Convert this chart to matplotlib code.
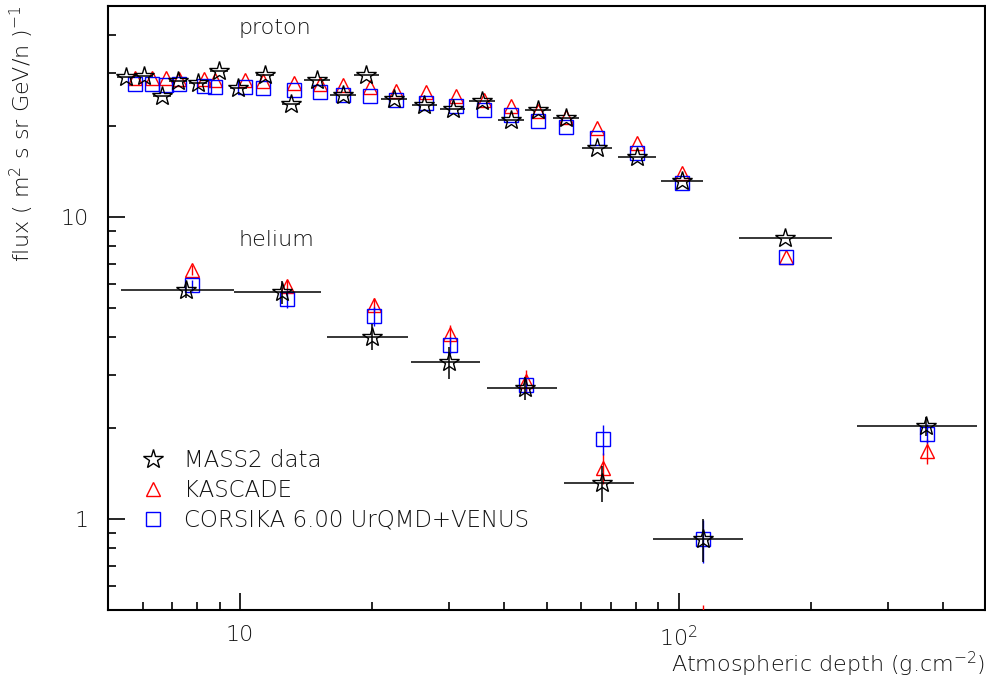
import matplotlib
matplotlib.use("Agg")
import matplotlib.pyplot as plt
import matplotlib.ticker as ticker
import numpy as np

plt.rcParams['font.family'] = ['DejaVu Sans']
plt.rcParams['font.weight'] = 'light'
plt.rcParams['mathtext.fontset'] = 'custom'
plt.rcParams['mathtext.rm'] = 'DejaVu Sans:light'

TXT = '#111111'

## proton: MASS2 data (stars) with depth bins
p_depth = [5.49, 6.04, 6.63, 7.23, 8.02, 8.94, 9.92, 11.40, 13.07, 14.96, 17.19, 19.43,
           22.44, 26.34, 30.53, 35.61, 41.57, 47.85, 55.38, 65.10, 80.54, 101.8, 175.3]
p_lo = [5.24, 5.76, 6.33, 6.90, 7.65, 8.53, 9.47, 10.88, 12.47, 13.98, 16.07, 18.16,
        20.97, 24.62, 28.53, 33.28, 38.85, 44.72, 51.76, 60.22, 72.95, 91.2, 137.2]
p_hi = [5.75, 6.33, 6.95, 7.58, 8.41, 9.37, 10.40, 11.95, 13.70, 16.01, 18.39, 20.79,
        24.01, 28.18, 32.67, 38.10, 44.48, 51.20, 59.26, 70.37, 88.92, 113.6, 224.0]
p_mass2 = [29.02, 29.25, 25.10, 28.30, 27.81, 30.55, 26.77, 29.47, 23.68, 28.52, 25.43, 29.63,
           24.60, 23.56, 22.80, 24.16, 21.01, 22.68, 21.28, 16.92, 15.86, 13.20, 8.52]

## proton: simulations
p_sim_depth = [5.77, 6.29, 6.78, 7.26, 8.26, 8.75, 10.27, 11.26, 13.27, 15.22, 17.19, 19.77,
               22.73, 26.58, 31.08, 36.04, 41.57, 47.85, 55.38, 65.10, 80.54, 101.8, 176.2]
p_kascade = [28.95, 28.95, 28.95, 28.73, 28.73, 28.52, 28.52, 28.30, 27.87, 27.66, 27.45, 27.03,
             26.22, 26.02, 25.23, 24.47, 23.38, 22.50, 21.49, 19.76, 17.61, 14.00, 7.36]
p_corsika = [27.66, 27.66, 27.45, 27.66, 27.24, 27.03, 27.03, 26.83, 26.42, 25.96, 25.43, 25.10,
             24.47, 23.86, 23.25, 22.55, 21.82, 20.73, 19.81, 18.34, 16.28, 12.94, 7.36]

## helium: MASS2 data
he_depth = [7.54, 12.49, 19.97, 29.90, 44.64, 67.07, 113.8, 366.6]
he_lo = [5.35, 9.666, 15.79, 24.49, 36.60, 54.92, 87.54, 255.3]
he_hi = [9.666, 15.28, 24.11, 35.28, 52.75, 79.14, 140.1, 480.2]
he_mass2 = [5.75, 5.65, 4.02, 3.32, 2.72, 1.32, 0.860, 2.03]
he_mass2_err = [0.36, 0.50, 0.39, 0.40, 0.24, 0.18, 0.14, 0.14]

## helium: simulations
he_sim_depth = [7.78, 12.77, 20.25, 30.12, 44.94, 67.31, 113.8, 368.0]
he_kascade = [6.70, 5.90, 5.10, 4.09, 2.87, 1.48, 0.44, 1.68]
he_kascade_err = [0.26, 0.28, 0.28, 0.29, 0.25, 0.17, 0.08, 0.16]
he_corsika = [5.94, 5.37, 4.70, 3.76, 2.79, 1.84, 0.856, 1.92]
he_corsika_err = [0.23, 0.38, 0.33, 0.24, 0.13, 0.21, 0.14, 0.14]

fig = plt.figure(figsize=(9.87, 6.77), dpi=100)
ax = fig.add_axes([0.1094, 0.099, 0.8886, 0.8921])

tri_kw = dict(fmt='^', ms=10, mfc='none', mec='red', mew=1.0, ecolor='red', elinewidth=1.0, capsize=0)
sq_kw = dict(fmt='s', ms=9.5, mfc='none', mec='blue', mew=1.0, ecolor='blue', elinewidth=1.0, capsize=0)
star_kw = dict(fmt='*', ms=14.5, mfc='none', mec='black', mew=1.0, ecolor='black', elinewidth=1.1, capsize=0)

# protons
ax.errorbar(p_sim_depth, p_kascade, **tri_kw, zorder=3)
ax.errorbar(p_sim_depth, p_corsika, **sq_kw, zorder=4)
p_x = np.array(p_depth)
ax.errorbar(p_x, p_mass2, xerr=[p_x - np.array(p_lo), np.array(p_hi) - p_x], **star_kw, zorder=5)

# helium
ax.errorbar(he_sim_depth, he_kascade, yerr=he_kascade_err, **tri_kw, zorder=3)
ax.errorbar(he_sim_depth, he_corsika, yerr=he_corsika_err, **sq_kw, zorder=4)
he_x = np.array(he_depth)
ax.errorbar(he_x, he_mass2, yerr=he_mass2_err,
            xerr=[he_x - np.array(he_lo), np.array(he_hi) - he_x], **star_kw, zorder=5)

ax.set_xscale('log')
ax.set_yscale('log')
ax.set_xlim(5, 500)
ax.set_ylim(0.5, 50)

ax.xaxis.set_major_locator(ticker.FixedLocator([10, 100]))
ax.xaxis.set_major_formatter(ticker.FixedFormatter(['10', r'$10^{2}$']))
ax.xaxis.set_minor_locator(ticker.LogLocator(base=10, subs=np.arange(2, 10)))
ax.xaxis.set_minor_formatter(ticker.NullFormatter())
ax.yaxis.set_major_locator(ticker.FixedLocator([1, 10]))
ax.yaxis.set_major_formatter(ticker.FixedFormatter(['1', '10']))
ax.yaxis.set_minor_locator(ticker.LogLocator(base=10, subs=np.arange(2, 10)))
ax.yaxis.set_minor_formatter(ticker.NullFormatter())

ax.tick_params(which='both', direction='in', top=False, right=False, labelsize=16,
               width=1.2, labelcolor=TXT)
ax.tick_params(which='major', length=12)
ax.tick_params(axis='x', which='major', pad=11)
ax.tick_params(axis='y', which='major', pad=14)
ax.tick_params(which='minor', length=6)
for s in ax.spines.values():
    s.set_linewidth(1.5)

ax.text(0.149, 0.9636, 'proton', transform=ax.transAxes, fontsize=16, va='center', color=TXT)
ax.text(0.149, 0.6126, 'helium', transform=ax.transAxes, fontsize=16, va='center', color=TXT)

fig.text(0.998, 0.019, r'Atmospheric depth (g.cm$^{-2}$)', ha='right', va='center', fontsize=16,
         color=TXT)
fig.text(0.022, 0.992, r'flux ( m$^{2}$ s sr GeV/n )$^{-1}$', rotation=90, ha='center', va='top',
         fontsize=16, color=TXT)

# legend
h_star = ax.errorbar([], [], **star_kw)
h_tri = ax.errorbar([], [], **tri_kw)
h_sq = ax.errorbar([], [], **sq_kw)
ax.legend([h_star, h_tri, h_sq], ['MASS2 data', 'KASCADE', 'CORSIKA 6.00 UrQMD+VENUS'],
          loc='upper left', bbox_to_anchor=(0.015, 0.281), frameon=False, fontsize=16.5,
          handletextpad=0.35, labelspacing=0.29, borderaxespad=0, labelcolor=TXT)

fig.savefig('out.png', dpi=100)
